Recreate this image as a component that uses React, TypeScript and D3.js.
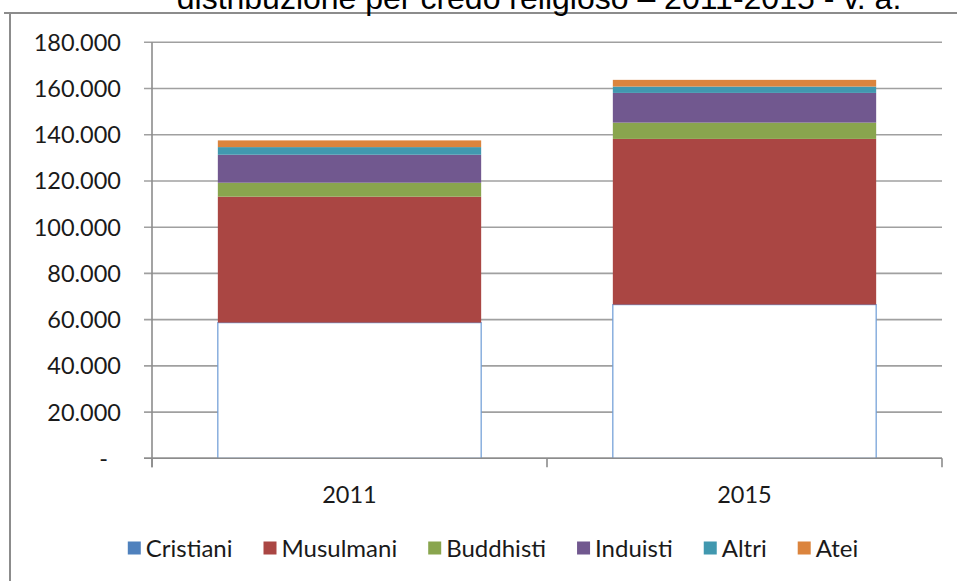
import React from "react";
import * as d3 from "d3";

const width = 957;
const height = 581;

const years = ["2011", "2015"];
const religions = ["Cristiani", "Musulmani", "Buddhisti", "Induisti", "Altri", "Atei"];
const colors = ["#4F81BD", "#AA4643", "#89A54E", "#71588F", "#4198AF", "#DB843D"];

const cristiani = [58700, 66500];
const musulmani = [54500, 71700];
const buddhisti = [6050, 7050];
const induisti = [12100, 12850];
const altri = [3300, 2750];
const atei = [2900, 2900];

const yTicks = [0, 20000, 40000, 60000, 80000, 100000, 120000, 140000, 160000, 180000];

const title = "distribuzione per credo religioso \u2013 2011-2015 - v. a.";

const margin = { top: 42.3, right: 15, bottom: 122.7, left: 152 };

const it = d3.formatLocale({ decimal: ",", thousands: ".", grouping: [3], currency: ["", ""] });
const fmt = (d: number) => (d === 0 ? "-" : it.format(",")(d));

const labelFont = "Lato, 'Open Sans', sans-serif";

function textWidth(s: string, font: string) {
  const ctx = document.createElement("canvas").getContext("2d");
  if (!ctx) return s.length * 11;
  ctx.font = font;
  return ctx.measureText(s).width;
}

const App = () => {
  const table = years.map((y, i) => ({
    year: y,
    Cristiani: cristiani[i],
    Musulmani: musulmani[i],
    Buddhisti: buddhisti[i],
    Induisti: induisti[i],
    Altri: altri[i],
    Atei: atei[i],
  }));

  const series = d3.stack<any>().keys(religions)(table);

  const x = d3
    .scaleBand()
    .domain(years)
    .range([margin.left, width - margin.right])
    .paddingInner(1 / 3)
    .paddingOuter(1 / 6);

  const y = d3
    .scaleLinear()
    .domain([0, 180000])
    .range([height - margin.bottom, margin.top]);

  const x0 = margin.left;
  const x1 = width - margin.right;
  const y0 = y(0);
  const step = x.step();

  // legend layout from measured text widths
  const legendFont = `24px ${labelFont}`;
  const sq = 13;
  const txtOff = 18;
  const gap = 31;
  const widths = religions.map((r) => textWidth(r, legendFont));
  const total = d3.sum(widths) + religions.length * txtOff + (religions.length - 1) * gap;
  let lx = 493 - total / 2;
  const legendItems = religions.map((r, i) => {
    const item = { name: r, x: lx, color: colors[i] };
    lx += txtOff + widths[i] + gap;
    return item;
  });

  return (
    <svg
      width={width}
      height={height}
      viewBox={`0 0 ${width} ${height}`}
      style={{ position: "absolute", left: 0, top: 0, background: "#fff" }}
    >
      <rect x={0} y={0} width={width} height={height} fill="#fff" />

      {/* chart frame (cropped) */}
      <line x1={4} x2={width} y1={13} y2={13} stroke="#8c8c8c" strokeWidth={2} />
      <line x1={10} x2={10} y1={13} y2={height} stroke="#8c8c8c" strokeWidth={2} />

      <text
        x={539}
        y={8.5}
        textAnchor="middle"
        fontFamily="'Liberation Sans', Arial, sans-serif"
        fontSize={32}
        fill="#000"
      >
        {title}
      </text>

      {/* gridlines */}
      {yTicks.map((t) => (
        <g key={t}>
          <line x1={x0 - 8} x2={x1} y1={y(t)} y2={y(t)} stroke="#a0a0a0" strokeWidth={1.6} />
          <text
            x={t === 0 ? 108 : 121}
            y={y(t)}
            dy="0.36em"
            textAnchor="end"
            fontFamily={labelFont}
            fontSize={23.5}
            fill="#1a1a1a"
          >
            {fmt(t)}
          </text>
        </g>
      ))}

      {/* bars */}
      {series.map((s, si) => (
        <g key={s.key}>
          {s.map((d: any) => (
            <rect
              key={d.data.year}
              x={x(d.data.year)}
              y={y(d[1])}
              width={x.bandwidth()}
              height={y(d[0]) - y(d[1])}
              fill={si === 0 ? "#fff" : colors[si]}
              stroke={si === 0 ? "#6c9bd6" : "none"}
              strokeWidth={si === 0 ? 1.2 : 0}
            />
          ))}
        </g>
      ))}

      {/* axes */}
      <line x1={x0} x2={x0} y1={margin.top} y2={y0 + 9} stroke="#8c8c8c" strokeWidth={1.6} />
      <line x1={x0 - 8} x2={x1} y1={y0} y2={y0} stroke="#8c8c8c" strokeWidth={1.6} />
      {d3.range(years.length + 1).map((i) => (
        <line
          key={i}
          x1={x0 + i * step}
          x2={x0 + i * step}
          y1={y0}
          y2={y0 + 9}
          stroke="#8c8c8c"
          strokeWidth={1.6}
        />
      ))}
      {years.map((yr) => (
        <text
          key={yr}
          x={(x(yr) ?? 0) + x.bandwidth() / 2}
          y={503}
          textAnchor="middle"
          fontFamily={labelFont}
          fontSize={23.5}
          fill="#1a1a1a"
        >
          {yr}
        </text>
      ))}

      {/* legend */}
      {legendItems.map((l) => (
        <g key={l.name}>
          <rect x={l.x} y={548 - sq / 2} width={sq} height={sq} fill={l.color} />
          <text
            x={l.x + txtOff}
            y={548}
            dy="0.36em"
            fontFamily={labelFont}
            fontSize={24}
            fill="#1a1a1a"
          >
            {l.name}
          </text>
        </g>
      ))}
    </svg>
  );
};

export default App;
